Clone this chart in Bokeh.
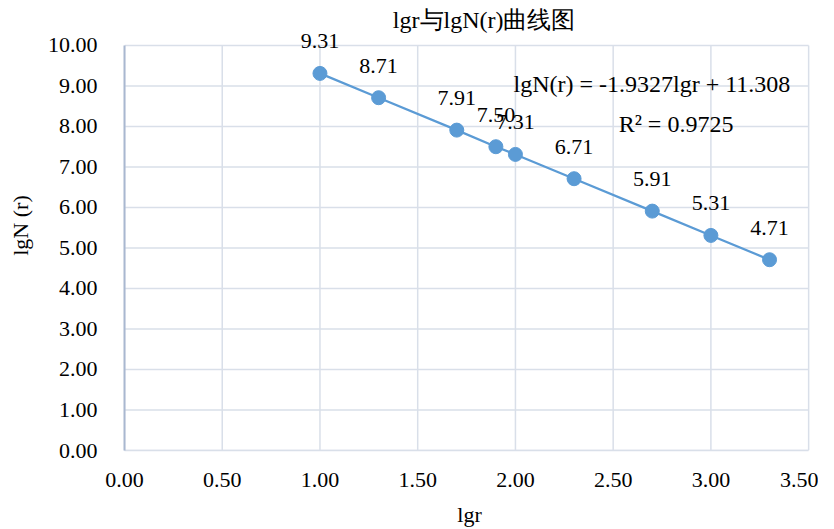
from bokeh.plotting import figure
from bokeh.models import ColumnDataSource, LabelSet, Label, FixedTicker, NumeralTickFormatter, Range1d
from bokeh.embed import file_html
from bokeh.resources import INLINE

lgr = [1.0, 1.3, 1.7, 1.9, 2.0, 2.3, 2.7, 3.0, 3.3]
lgN = [9.31, 8.71, 7.91, 7.50, 7.31, 6.71, 5.91, 5.31, 4.71]
labels = ["9.31", "8.71", "7.91", "7.50", "7.31", "6.71", "5.91", "5.31", "4.71"]
x_ticks = [0, 0.5, 1.0, 1.5, 2.0, 2.5, 3.0, 3.5]
y_ticks = [0, 1, 2, 3, 4, 5, 6, 7, 8, 9, 10]
title_text = "lgr与lgN(r)曲线图"
x_label = "lgr"
y_label = "lgN (r)"
eq_text = "lgN(r) = -1.9327lgr + 11.308"
r2_text = "R² = 0.9725"

FONT = "Liberation Serif"
BLUE = "#5B9BD5"
GRID = "#D9DFE9"

x_min, x_max = x_ticks[0], x_ticks[-1]
y_min, y_max = y_ticks[0], y_ticks[-1]

# frame reaches the top of the canvas so that the title and top data label are not clipped
p = figure(width=818, height=529, output_backend="svg", toolbar_location=None,
           x_range=Range1d(0, 3.53), y_range=Range1d(0, 11.11),
           min_border_left=124, min_border_right=4, min_border_top=0, min_border_bottom=79)

p.outline_line_color = None
p.background_fill_color = "white"
p.xgrid.visible = False
p.ygrid.visible = False

# grid lines limited to the plotting area
p.segment(x0=x_ticks, y0=[y_min] * len(x_ticks), x1=x_ticks, y1=[y_max] * len(x_ticks),
          line_color=GRID, line_width=1.5)
p.segment(x0=[x_min] * len(y_ticks), y0=y_ticks, x1=[x_max] * len(y_ticks), y1=y_ticks,
          line_color=GRID, line_width=1.5)

p.xaxis.ticker = FixedTicker(ticks=x_ticks)
p.yaxis.ticker = FixedTicker(ticks=y_ticks)
p.xaxis.bounds = (x_min, x_max)
p.yaxis.bounds = (y_min, y_max)
p.xaxis.formatter = NumeralTickFormatter(format="0.00")
p.yaxis.formatter = NumeralTickFormatter(format="0.00")
for ax in (p.xaxis, p.yaxis):
    ax.major_tick_line_color = None
    ax.minor_tick_line_color = None
    ax.major_label_text_font = FONT
    ax.major_label_text_font_size = "22px"
    ax.major_label_text_color = "#000000"
    ax.axis_label_text_font = FONT
    ax.axis_label_text_font_style = "normal"
    ax.axis_label_text_color = "#000000"
    ax.axis_label_text_font_size = "22px"

p.xaxis.axis_label = x_label
p.yaxis.axis_label = y_label
p.xaxis.axis_line_color = GRID
p.xaxis.axis_line_width = 1.5
p.yaxis.axis_line_color = "#A9B8D0"
p.yaxis.axis_line_width = 2
p.xaxis.major_label_standoff = 16
p.xaxis.axis_label_standoff = 12
p.yaxis.major_label_standoff = 21
p.yaxis.axis_label_standoff = 12

src = ColumnDataSource(dict(x=lgr, y=lgN, t=labels))
p.line("x", "y", source=src, line_color=BLUE, line_width=2.25)
p.scatter("x", "y", source=src, size=14, fill_color=BLUE, line_color=BLUE)

ls = LabelSet(x="x", y="y", text="t", source=src, text_align="center", text_baseline="alphabetic",
              y_offset=25, text_font=FONT, text_font_size="22px", text_color="#000000")
p.add_layout(ls)

p.add_layout(Label(x=1.99, y=9.04, text=eq_text, text_font=FONT, text_font_size="24px",
                   text_baseline="middle", text_align="left", text_color="#000000"))
p.add_layout(Label(x=2.528, y=8.05, text=r2_text, text_font=FONT, text_font_size="24px",
                   text_baseline="middle", text_align="left", text_color="#000000"))

p.add_layout(Label(x=1.84, y=10.64, text=title_text, text_font=FONT, text_font_size="24px",
                   text_baseline="middle", text_align="center", text_color="#000000"))

open("out.html", "w").write(file_html(p, INLINE))
